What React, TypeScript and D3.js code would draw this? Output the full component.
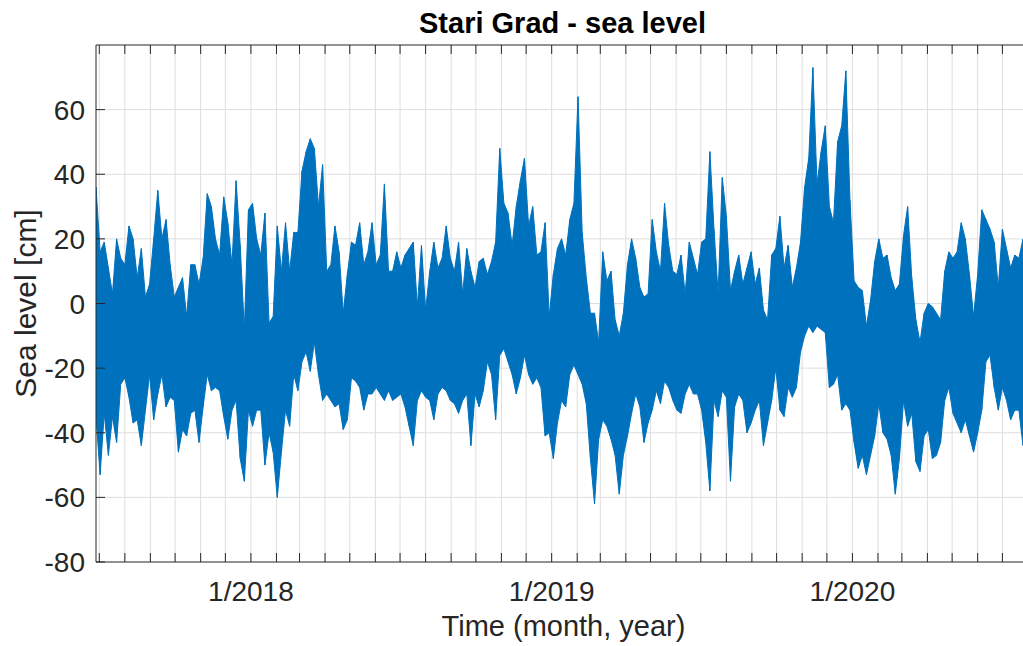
import React from "react";
import * as d3 from "d3";

// ---- Data (sea level envelope, cm), one sample every 5 days from 2017-06-27 ----
const START_UTC = Date.UTC(2017, 5, 27);
const STEP_DAYS = 5;

const upperA = [36,16,19,11,3,20,14,12,24,20, 8,17,2,6,20,35,20,26,12,2, 5,8,-4,12,12,6,14,34,30,20, 15,33,25,12,38,18,-8,29,31,20, 15,28,-6,-4,24,10];
const upperB = [25,10,22,22,41,47,51,48,30,43, 10,12,24,16,-3,9,19,18,25,12, 16,25,12,15,37,10,10,16,11,15, 17,19,-1,18,-2,10,19,11,14,24, 14,10,19,3,17];
const upperC = [10,5,13,14,9,13,19,48,31, 28,18,30,38,45,24,30,15,16,25, -4,9,17,20,15,26,31,64,22,8, -3,-3,-12,16,7,10,-5,-10,-3,12, 20,14,5,2,3,26];
const upperD = [16,10,31,18,10,9,15,3,19,14, 9,19,20,47,23,3,39,27,4,10, 15,6,11,16,6,11,-2,-5,15,17, 27,11,18,5,11,19,36,45,73,37, 47,55,30,25,50];
const upperE = [55,72,32,7,5,4,-7,1,13, 20,14,15,8,4,6,21,30,8,-5, -12,-3,0,-1,-3,-5,10,16,14,16, 25,20,9,-4,9,29,26,23,19,5, 23,17,11,15,14,20];

const lowerA = [-35,-53,-34,-47,-35,-43,-25,-23,-29,-37, -36,-44,-33,-22,-36,-28,-22,-32,-29,-30, -46,-39,-41,-34,-33,-43,-32,-22,-27,-26, -27,-35,-42,-33,-30,-48,-55,-33,-38,-33, -33,-50,-40,-46,-60,-46];
const lowerB = [-33,-38,-22,-27,-18,-15,-21,-12,-22,-30, -28,-30,-32,-31,-39,-36,-23,-24,-26,-33, -28,-28,-26,-28,-30,-27,-30,-29,-28,-32, -38,-44,-30,-27,-29,-30,-36,-28,-26,-27, -30,-31,-34,-30,-28];
const lowerC = [-44,-28,-32,-27,-18,-22,-36,-16,-14, -18,-22,-28,-23,-16,-22,-25,-23,-26,-41, -40,-48,-37,-30,-32,-22,-19,-22,-25,-31, -48,-62,-42,-36,-38,-42,-47,-59,-47,-41, -34,-28,-32,-43,-37,-33];
const lowerD = [-27,-31,-24,-26,-30,-33,-34,-28,-25,-28, -28,-33,-43,-58,-30,-35,-27,-29,-55,-32, -28,-30,-40,-37,-33,-30,-44,-37,-30,-20, -33,-35,-26,-29,-26,-15,-10,-7,-9,-7, -8,-9,-26,-25,-22];
const lowerE = [-33,-31,-33,-43,-51,-47,-53,-47,-41, -31,-40,-42,-47,-59,-48,-30,-38,-34,-49, -52,-41,-39,-48,-47,-43,-30,-26,-34,-37, -40,-36,-41,-46,-40,-33,-18,-16,-26,-33, -26,-30,-36,-33,-33,-44];

const yTicks = [60, 40, 20, 0, -20, -40, -60, -80];
const yGrid = [60, 40, 20, 0, -20, -40, -60];
const TITLE = "Stari Grad - sea level";
const X_LABEL = "Time (month, year)";
const Y_LABEL = "Sea level [cm]";

const upper = [...upperA, ...upperB, ...upperC, ...upperD, ...upperE];
const lower = [...lowerA, ...lowerB, ...lowerC, ...lowerD, ...lowerE];
const DAY = 86400000;
const samples = upper.map((u, i) => ({
  t: new Date(START_UTC + i * STEP_DAYS * DAY),
  hi: u,
  lo: lower[i],
}));

const W = 1023;
const H = 646;
const L = 96, R = 1023, T = 45, B = 562;
const FONT = "'Liberation Sans', Arial, Helvetica, sans-serif";
const TXT = "#262626";
const BLUE = "#0072BD";

export default function App() {
  const x = d3
    .scaleUtc()
    .domain([samples[0].t, samples[samples.length - 1].t])
    .range([L, R]);
  const y = d3.scaleLinear().domain([-80, 80]).range([B, T]);

  const months = d3.utcMonth.range(samples[0].t, samples[samples.length - 1].t);

  const area = d3
    .area<any>()
    .x((d) => x(d.t))
    .y0((d) => y(d.lo))
    .y1((d) => y(d.hi))
    .curve(d3.curveLinear);
  const upLine = d3.line<any>().x((d) => x(d.t)).y((d) => y(d.hi));
  const loLine = d3.line<any>().x((d) => x(d.t)).y((d) => y(d.lo));

  const tickLen = 9;

  return (
    <svg
      width={W}
      height={H}
      style={{ position: "absolute", left: 0, top: 0, background: "#fff" }}
      fontFamily={FONT}
    >
      <defs>
        <clipPath id="plotClip">
          <rect x={L} y={T} width={R - L} height={B - T} />
        </clipPath>
      </defs>
      <rect x={0} y={0} width={W} height={H} fill="#fff" />

      {/* grid */}
      <g stroke="#dedede" strokeWidth={1}>
        {months.map((m, i) => (
          <line key={"gx" + i} x1={x(m)} x2={x(m)} y1={T} y2={B} />
        ))}
        {yGrid.map((v) => (
          <line key={"gy" + v} x1={L} x2={R} y1={y(v)} y2={y(v)} />
        ))}
      </g>

      {/* data */}
      <g clipPath="url(#plotClip)">
        <path d={area(samples) || ""} fill={BLUE} stroke="none" />
        <path d={upLine(samples) || ""} fill="none" stroke={BLUE} strokeWidth={1} />
        <path d={loLine(samples) || ""} fill="none" stroke={BLUE} strokeWidth={1} />
        {samples.map((s, i) => (
          <line key={"v" + i} x1={x(s.t)} x2={x(s.t)} y1={y(s.lo)} y2={y(s.hi)} stroke={BLUE} strokeWidth={1} />
        ))}
      </g>

      {/* axes */}
      <g stroke={TXT} strokeWidth={1}>
        <line x1={L} x2={R} y1={T} y2={T} />
        <line x1={L} x2={R} y1={B} y2={B} />
        <line x1={L} x2={L} y1={T} y2={B} />
        {months.map((m, i) => (
          <g key={"tk" + i}>
            <line x1={x(m)} x2={x(m)} y1={B} y2={B - tickLen} />
            <line x1={x(m)} x2={x(m)} y1={T} y2={T + tickLen} />
          </g>
        ))}
        {yTicks.map((v) => (
          <line key={"ty" + v} x1={L} x2={L + tickLen} y1={y(v)} y2={y(v)} />
        ))}
      </g>

      {/* tick labels */}
      <g fill={TXT} fontSize={28}>
        {yTicks.map((v) => (
          <text key={"ly" + v} x={L - 11} y={y(v) + 10} textAnchor="end">
            {v}
          </text>
        ))}
        {months
          .filter((m) => m.getUTCMonth() === 0)
          .map((m) => (
            <text key={"lx" + m.getUTCFullYear()} x={x(m)} y={601} textAnchor="middle">
              {`1/${m.getUTCFullYear()}`}
            </text>
          ))}
      </g>

      {/* title and labels */}
      <text x={(L + R) / 2 + 3} y={33} textAnchor="middle" fontSize={29} fontWeight="bold" fill="#000">
        {TITLE}
      </text>
      <text x={(L + R) / 2 + 4} y={636} textAnchor="middle" fontSize={29} fill={TXT}>
        {X_LABEL}
      </text>
      <text
        transform={`translate(36, ${(T + B) / 2}) rotate(-90)`}
        textAnchor="middle"
        fontSize={30}
        fill={TXT}
      >
        {Y_LABEL}
      </text>
    </svg>
  );
}
